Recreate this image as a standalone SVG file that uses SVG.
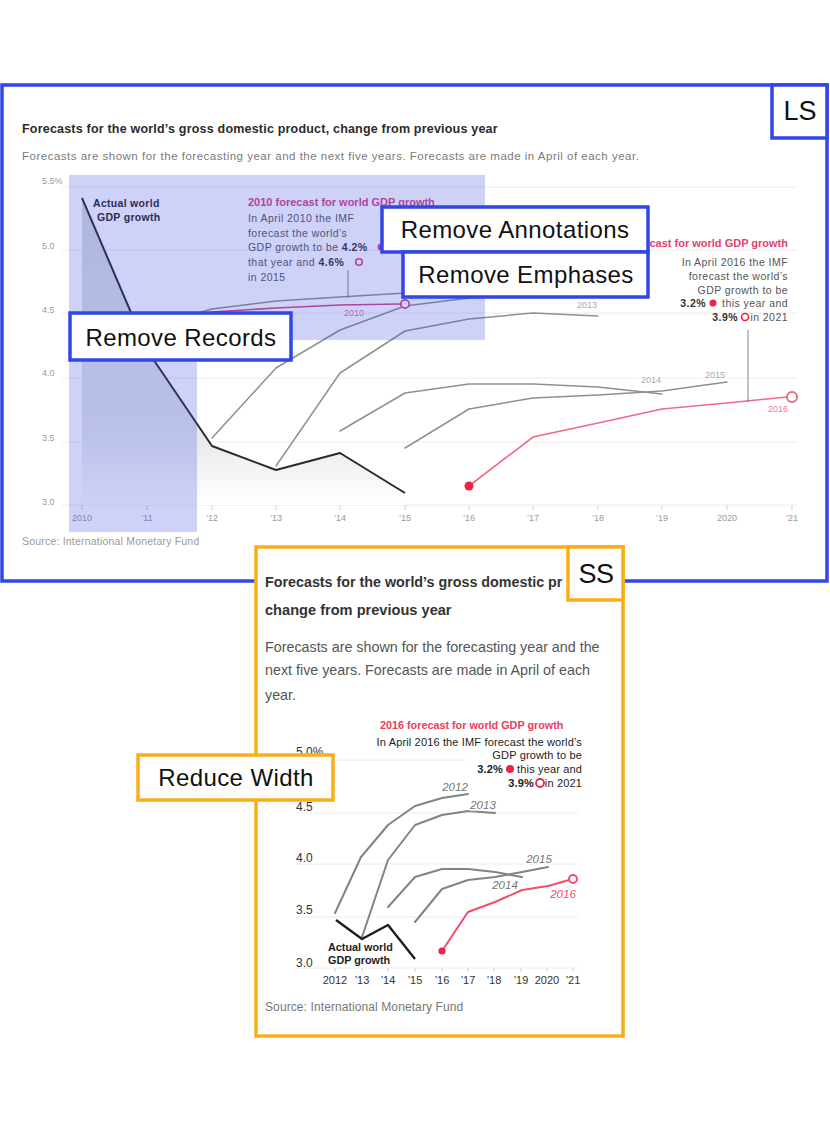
<svg xmlns="http://www.w3.org/2000/svg" width="830" height="1142" viewBox="0 0 830 1142">
<defs>
<style>
text{font-family:"Liberation Sans",Arial,Helvetica,sans-serif;}
.grid{stroke:#ececec;stroke-width:1;fill:none}
.tick{stroke:#cfcfcf;stroke-width:1}
.fc{fill:none;stroke:#8a9292;stroke-width:1.5;stroke-linejoin:round;stroke-linecap:round}
.act{fill:none;stroke:#2a2a2a;stroke-width:2;stroke-linejoin:round}
.ax{font-size:9px;fill:#9a9a9a}
.lbl{font-size:9px;fill:#a8a8a8;text-anchor:middle;paint-order:stroke;stroke:#fff;stroke-width:3px}
.ann{font-size:10.5px;fill:#555;letter-spacing:0.45px}
.b{font-weight:bold;fill:#333}
.lead{stroke:#777;stroke-width:0.9;fill:none}
.boxb{fill:#fff;stroke:#3146e6;stroke-width:3.5}
.boxo{fill:#fff;stroke:#f9ae16;stroke-width:3.5}
.bt{font-size:24px;fill:#111;text-anchor:middle;letter-spacing:0.4px}
.sfc{fill:none;stroke:#7d8585;stroke-width:2;stroke-linejoin:round;stroke-linecap:round}
.sact{fill:none;stroke:#1e1e1e;stroke-width:2.4;stroke-linejoin:round}
.sax{font-size:11px;fill:#333;text-anchor:middle}
.sy{font-size:12px;fill:#333}
.slbl{font-size:11.5px;font-style:italic;fill:#777;text-anchor:middle;paint-order:stroke;stroke:#fff;stroke-width:3px}
.sann{font-size:11px;fill:#222;letter-spacing:0.15px}
</style>
<linearGradient id="areaGrad" gradientUnits="userSpaceOnUse" x1="0" y1="198" x2="0" y2="505">
<stop offset="0" stop-color="#d6dbdb"/>
<stop offset="0.75" stop-color="#e4e7e7"/>
<stop offset="1" stop-color="#ffffff"/>
</linearGradient>
</defs>
<rect width="830" height="1142" fill="#fff"/>

<!-- LS panel -->
<g id="ls-panel">
<rect x="2" y="85" width="825" height="496" class="boxb"/>
<text x="22" y="133" font-size="12.5" font-weight="bold" fill="#2b2b2b" letter-spacing="0.2">Forecasts for the world’s gross domestic product, change from previous year</text>
<text x="22" y="160" font-size="11.5" fill="#7a7a7a" letter-spacing="0.5">Forecasts are shown for the forecasting year and the next five years. Forecasts are made in April of each year.</text>
</g>

<g id="ls-chart">
<g>
<line class="grid" x1="62" y1="187" x2="797" y2="187"/>
<line class="grid" x1="62" y1="250" x2="797" y2="250"/>
<line class="grid" x1="62" y1="313" x2="797" y2="313"/>
<line class="grid" x1="62" y1="378" x2="797" y2="378"/>
<line class="grid" x1="62" y1="442" x2="797" y2="442"/>
<line class="grid" x1="62" y1="505" x2="797" y2="505"/>
</g>
<g class="ax">
<text x="42" y="184">5.5%</text>
<text x="42" y="249">5.0</text>
<text x="42" y="313">4.5</text>
<text x="42" y="376">4.0</text>
<text x="42" y="441">3.5</text>
<text x="42" y="505">3.0</text>
</g>
<g>
<line class="tick" x1="82" y1="505" x2="82" y2="510"/>
<line class="tick" x1="147" y1="505" x2="147" y2="510"/>
<line class="tick" x1="212" y1="505" x2="212" y2="510"/>
<line class="tick" x1="276" y1="505" x2="276" y2="510"/>
<line class="tick" x1="340" y1="505" x2="340" y2="510"/>
<line class="tick" x1="405" y1="505" x2="405" y2="510"/>
<line class="tick" x1="469" y1="505" x2="469" y2="510"/>
<line class="tick" x1="533" y1="505" x2="533" y2="510"/>
<line class="tick" x1="598" y1="505" x2="598" y2="510"/>
<line class="tick" x1="662" y1="505" x2="662" y2="510"/>
<line class="tick" x1="727" y1="505" x2="727" y2="510"/>
<line class="tick" x1="792" y1="505" x2="792" y2="510"/>
</g>
<g class="ax" text-anchor="middle">
<text x="82" y="521">2010</text>
<text x="147" y="521">’11</text>
<text x="212" y="521">’12</text>
<text x="276" y="521">’13</text>
<text x="340" y="521">’14</text>
<text x="405" y="521">’15</text>
<text x="469" y="521">’16</text>
<text x="533" y="521">’17</text>
<text x="598" y="521">’18</text>
<text x="662" y="521">’19</text>
<text x="727" y="521">2020</text>
<text x="792" y="521">’21</text>
</g>
<text x="22" y="545" font-size="10.5" fill="#9a9a9a" letter-spacing="0.2">Source: International Monetary Fund</text>

<path d="M82,198 L147,350 L212,446 L276,470 L340,453 L405,493 L405,505 L82,505 Z" fill="url(#areaGrad)"/>

<path class="fc" d="M147,327 L212,309 L276,301 L340,297 L405,293 L469,290"/>
<path class="fc" d="M212,438 L276,368 L340,330 L405,306 L469,298 L533,294"/>
<path class="fc" d="M276,466 L340,373 L405,331 L469,319 L533,313 L598,316"/>
<path class="fc" d="M340,431 L405,393 L469,384 L533,384 L598,387 L662,394"/>
<path class="fc" d="M405,448 L469,409 L533,398 L598,395 L662,391 L727,382"/>
<path d="M82,352 L147,330 L212,312 L276,308 L340,305 L401,304" fill="none" stroke="#d6418a" stroke-width="1.6"/>
<circle cx="82" cy="352" r="3.5" fill="#d6418a"/>
<circle cx="405" cy="304" r="4.2" fill="#fff" stroke="#d6418a" stroke-width="1.8"/>
<path d="M469,486 L533,437 L598,423 L662,409 L727,403 L787,397" fill="none" stroke="#f06a82" stroke-width="1.6"/>
<circle cx="469" cy="486" r="4.5" fill="#ee2447"/>
<circle cx="792" cy="397" r="5" fill="#fff" stroke="#f06a82" stroke-width="2"/>
<path class="act" d="M82,198 L147,350 L212,446 L276,470 L340,453 L405,493"/>

<text class="lbl" x="587" y="308">2013</text>
<text class="lbl" x="651" y="383">2014</text>
<text class="lbl" x="715" y="378">2015</text>
<text class="lbl" x="778" y="412" style="fill:#f07a92">2016</text>
<text class="lbl" x="354" y="316" style="fill:#dc6aa2">2010</text>

<text x="93" y="206.5" font-size="10.5" font-weight="bold" fill="#222" letter-spacing="0.3">Actual world</text>
<text x="97" y="220.5" font-size="10.5" font-weight="bold" fill="#222" letter-spacing="0.3">GDP growth</text>

<g id="ls-ann-2010">
<text x="248" y="206" font-size="11" font-weight="bold" fill="#d6418a">2010 forecast for world GDP growth</text>
<text class="ann" x="248" y="222">In April 2010 the IMF</text>
<text class="ann" x="248" y="236.5">forecast the world’s</text>
<text class="ann" x="248" y="251">GDP growth to be <tspan class="b">4.2%</tspan></text>
<circle cx="381" cy="247" r="3.5" fill="#d6418a"/>
<text class="ann" x="248" y="265.5">that year and <tspan class="b">4.6%</tspan></text>
<circle cx="359" cy="262" r="3.3" fill="none" stroke="#d6418a" stroke-width="1.6"/>
<text class="ann" x="248" y="280.5">in 2015</text>
</g>

<g id="ls-ann-2016">
<text x="788" y="246.5" font-size="11" font-weight="bold" fill="#e6406f" text-anchor="end">2016 forecast for world GDP growth</text>
<text class="ann" x="788" y="265.5" text-anchor="end">In April 2016 the IMF</text>
<text class="ann" x="788" y="279.5" text-anchor="end">forecast the world’s</text>
<text class="ann" x="788" y="293.5" text-anchor="end">GDP growth to be</text>
<text class="ann" x="788" y="307" text-anchor="end">this year and</text>
<circle cx="713" cy="303" r="3.5" fill="#ee2447"/>
<text class="ann b" x="706" y="307" text-anchor="end">3.2%</text>
<text class="ann" x="788" y="321" text-anchor="end">in 2021</text>
<circle cx="745" cy="317" r="3.5" fill="none" stroke="#ee2447" stroke-width="1.6"/>
<text class="ann b" x="738" y="321" text-anchor="end">3.9%</text>
</g>
</g>

<g id="connectors">
<line class="lead" x1="348" y1="270" x2="348" y2="298"/>
<line class="lead" x1="748" y1="330" x2="748" y2="402"/>
<line x1="562" y1="800" x2="562" y2="881" stroke="#1e1e1e" stroke-width="1.3"/>
</g>

<g id="overlay-records">
<path d="M69,175 L485,175 L485,340 L197,340 L197,532 L69,532 Z" fill="#3b4ce8" fill-opacity="0.25"/>
</g>

<g id="box-ls"><rect x="772" y="85" width="55" height="53" class="boxb"/><text x="800" y="120" font-size="27" fill="#111" text-anchor="middle">LS</text></g>
<g id="box-remove-annotations"><rect x="382" y="207" width="266" height="45" class="boxb"/><text class="bt" x="515" y="237.5">Remove Annotations</text></g>
<g id="box-remove-emphases"><rect x="403" y="252" width="245" height="45" class="boxb"/><text class="bt" x="526" y="282.5">Remove Emphases</text></g>
<g id="box-remove-records"><rect x="70" y="313" width="221" height="47" class="boxb"/><text class="bt" x="181" y="346">Remove Records</text></g>

<!-- SS panel -->
<g id="ss-panel">
<rect x="256" y="547" width="367" height="489" class="boxo"/>
<text x="265" y="587" font-size="14.3" font-weight="bold" fill="#333">Forecasts for the world’s gross domestic pr</text>
<text x="265" y="615" font-size="14.6" font-weight="bold" fill="#333">change from previous year</text>
<text x="265" y="651.5" font-size="14.3" fill="#555">Forecasts are shown for the forecasting year and the</text>
<text x="265" y="675" font-size="14.3" fill="#555">next five years. Forecasts are made in April of each</text>
<text x="265" y="699.5" font-size="14.3" fill="#555">year.</text>
</g>

<g id="ss-chart">
<g>
<line class="grid" x1="296" y1="760" x2="468" y2="760"/>
<line class="grid" x1="296" y1="813" x2="578" y2="813"/>
<line class="grid" x1="296" y1="864" x2="578" y2="864"/>
<line class="grid" x1="296" y1="917" x2="578" y2="917"/>
<line class="grid" x1="296" y1="968" x2="578" y2="968"/>
</g>
<g class="sy">
<text x="296" y="756">5.0%</text>
<text x="296" y="811">4.5</text>
<text x="296" y="862">4.0</text>
<text x="296" y="914">3.5</text>
<text x="296" y="967">3.0</text>
</g>
<g>
<line class="tick" x1="335" y1="968" x2="335" y2="972"/>
<line class="tick" x1="362" y1="968" x2="362" y2="972"/>
<line class="tick" x1="388" y1="968" x2="388" y2="972"/>
<line class="tick" x1="415" y1="968" x2="415" y2="972"/>
<line class="tick" x1="442" y1="968" x2="442" y2="972"/>
<line class="tick" x1="468" y1="968" x2="468" y2="972"/>
<line class="tick" x1="494" y1="968" x2="494" y2="972"/>
<line class="tick" x1="521" y1="968" x2="521" y2="972"/>
<line class="tick" x1="547" y1="968" x2="547" y2="972"/>
<line class="tick" x1="573" y1="968" x2="573" y2="972"/>
</g>
<g class="sax">
<text x="335" y="984">2012</text>
<text x="362" y="984">’13</text>
<text x="388" y="984">’14</text>
<text x="415" y="984">’15</text>
<text x="442" y="984">’16</text>
<text x="468" y="984">’17</text>
<text x="494" y="984">’18</text>
<text x="521" y="984">’19</text>
<text x="547" y="984">2020</text>
<text x="573" y="984">’21</text>
</g>
<path class="sfc" d="M335,913 L361,857 L388,825 L415,806 L442,798 L468,794"/>
<path class="sfc" d="M362,937 L388,860 L415,825 L442,815 L468,811 L495,813"/>
<path class="sfc" d="M388,907 L415,877 L442,869 L468,869 L495,872 L522,877"/>
<path class="sfc" d="M415,922 L442,889 L468,880 L495,877 L522,872 L548,867"/>
<path d="M442,951 L468,912 L495,902 L522,890 L548,886 L569,880" fill="none" stroke="#f04f6a" stroke-width="2" stroke-linejoin="round"/>
<circle cx="442" cy="951" r="3.6" fill="#ee2447"/>
<circle cx="573" cy="879" r="4" fill="#fff" stroke="#f04f6a" stroke-width="2"/>
<path class="sact" d="M336,920 L362,939 L388,925 L415,959"/>
<text class="slbl" x="455" y="791">2012</text>
<text class="slbl" x="483" y="809">2013</text>
<text class="slbl" x="505" y="889">2014</text>
<text class="slbl" x="539" y="863">2015</text>
<text class="slbl" x="563" y="898" style="fill:#f04f6a">2016</text>
<text x="328" y="951" font-size="10.8" font-weight="bold" fill="#1e1e1e">Actual world</text>
<text x="328" y="963.5" font-size="10.8" font-weight="bold" fill="#1e1e1e">GDP growth</text>

<g id="ss-ann-2016">
<text x="380" y="729" font-size="10.8" font-weight="bold" fill="#ee3b5b">2016 forecast for world GDP growth</text>
<text class="sann" x="582" y="745.5" text-anchor="end">In April 2016 the IMF forecast the world’s</text>
<text class="sann" x="582" y="759" text-anchor="end">GDP growth to be</text>
<text class="sann" x="582" y="772.5" text-anchor="end">this year and</text>
<circle cx="510" cy="769" r="4" fill="#ee2447"/>
<text class="sann" x="503" y="772.5" text-anchor="end" font-weight="bold">3.2%</text>
<text class="sann" x="582" y="786.5" text-anchor="end">in 2021</text>
<circle cx="540" cy="783" r="4" fill="none" stroke="#ee2447" stroke-width="1.8"/>
<text class="sann" x="534" y="786.5" text-anchor="end" font-weight="bold">3.9%</text>
</g>
<text x="265" y="1011" font-size="12" fill="#777" letter-spacing="0.1">Source: International Monetary Fund</text>
</g>

<g id="box-ss"><rect x="568" y="547" width="55" height="53" class="boxo"/><text x="596" y="583" font-size="27" fill="#111" text-anchor="middle" letter-spacing="-0.5">SS</text></g>
<g id="box-reduce-width"><rect x="138" y="755" width="195" height="45" class="boxo"/><text class="bt" x="236" y="786">Reduce Width</text></g>
</svg>
